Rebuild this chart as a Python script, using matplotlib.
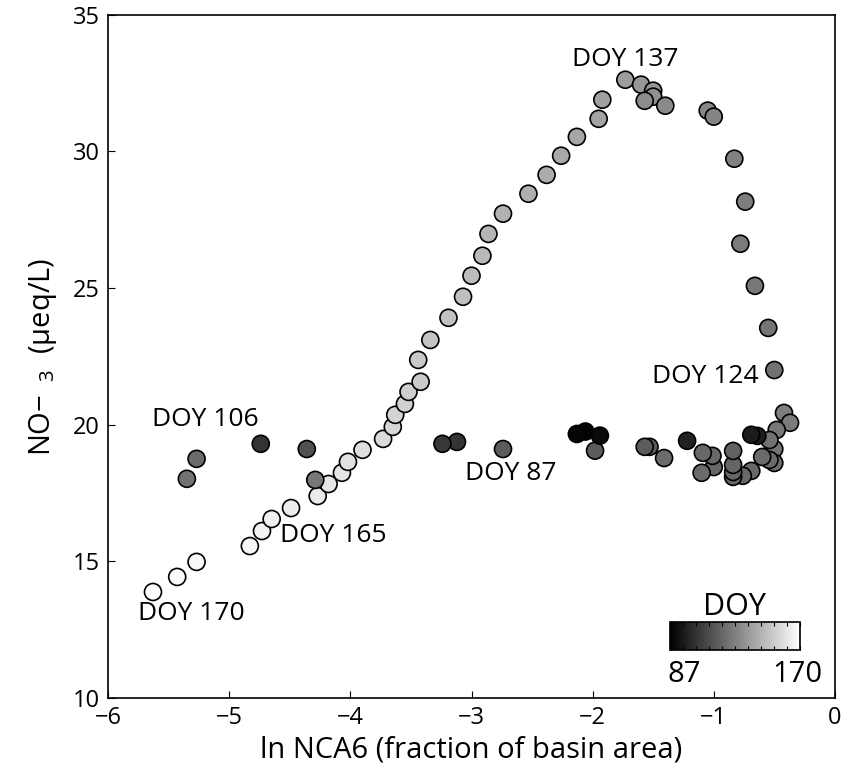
import matplotlib.pyplot as plt
import numpy as np

plt.rcParams['font.family'] = ['Open Sans', 'DejaVu Sans']
plt.rcParams['mathtext.fontset'] = 'custom'
plt.rcParams['mathtext.rm'] = 'Open Sans'

# ascending branch, DOY 170 -> 137
x_up = [-5.63, -5.43, -5.27, -4.83, -4.73, -4.65, -4.49, -4.27, -4.18, -4.07, -4.02,
        -3.90, -3.73, -3.65, -3.63, -3.55, -3.52, -3.42, -3.44, -3.34, -3.19, -3.07,
        -3.00, -2.91, -2.86, -2.74, -2.53, -2.38, -2.26, -2.13, -1.95, -1.92, -1.73]
y_up = [13.88, 14.43, 14.98, 15.56, 16.11, 16.55, 16.95, 17.39, 17.83, 18.24, 18.64,
        19.08, 19.48, 19.92, 20.36, 20.76, 21.20, 21.57, 22.37, 23.10, 23.91, 24.68,
        25.45, 26.18, 26.98, 27.72, 28.45, 29.14, 29.84, 30.53, 31.19, 31.89, 32.62]
doy_up = list(range(170, 137, -1))

# descending branch, DOY 136 -> 124
x_down = [-1.60, -1.50, -1.50, -1.57, -1.40, -1.05, -1.00, -0.83, -0.74, -0.78, -0.66, -0.55, -0.50]
y_down = [32.44, 32.22, 32.00, 31.85, 31.67, 31.49, 31.27, 29.73, 28.16, 26.62, 25.08, 23.54, 22.00]
doy_down = list(range(136, 123, -1))

# low branch, DOY 87 - 123
x_low = [-0.42, -0.37, -0.48, -0.50, -0.54, -0.50, -0.54, -0.60, -0.64, -0.69, -0.69,
         -0.76, -0.84, -0.84, -0.84, -0.84, -1.00, -1.01, -1.09, -1.10, -1.22, -1.41,
         -1.53, -1.57, -1.98, -2.06, -1.94, -2.13, -2.74, -3.12, -3.24, -4.29, -4.36,
         -4.74, -5.27, -5.35]
y_low = [20.43, 20.07, 19.81, 19.11, 19.44, 18.60, 18.71, 18.82, 19.59, 19.63, 18.31,
         18.13, 18.09, 18.27, 18.53, 19.04, 18.45, 18.86, 18.97, 18.24, 19.41, 18.78,
         19.19, 19.19, 19.05, 19.75, 19.60, 19.66, 19.11, 19.37, 19.30, 17.98, 19.11,
         19.30, 18.75, 18.02]
doy_low = [128, 127, 126, 125, 124, 123, 122, 122, 97, 96, 121,
           121, 121, 120, 120, 119, 121, 121, 121, 122, 98, 122,
           117, 117, 117, 88, 90, 89, 117, 104, 105, 126, 113,
           104, 122, 124]

x = np.array(x_up + x_down + x_low)
y = np.array(y_up + y_down + y_low)
doy = np.array(doy_up + doy_down + doy_low)

fig = plt.figure(figsize=(8.45, 7.73), dpi=100)
ax = fig.add_axes([0.128, 0.097, 0.86, 0.884])
sc = ax.scatter(x, y, c=doy, cmap='gray', vmin=87, vmax=170, s=150,
                edgecolors='black', linewidths=1.2, zorder=3)

ax.set_xlim(-6, 0)
ax.set_ylim(10, 35)
ax.set_xticks([-6, -5, -4, -3, -2, -1, 0])
ax.set_xticklabels(['\u22126', '\u22125', '\u22124', '\u22123', '\u22122', '\u22121', '0'])
ax.set_yticks([10, 15, 20, 25, 30, 35])
ax.tick_params(direction='in', length=5, labelsize=17, pad=6)
for s in ax.spines.values():
    s.set_linewidth(1.2)
ax.set_xlabel('ln NCA6 (fraction of basin area)', fontsize=21, labelpad=4)
ax.set_ylabel('NO$-_{\\ \\ 3}$  (\u03bceq/L)', fontsize=21, labelpad=10)

labels = [('DOY 137', -1.73, 33.35), ('DOY 124', -1.07, 21.75), ('DOY 106', -5.2, 20.2),
          ('DOY 165', -4.14, 15.93), ('DOY 170', -5.31, 13.1), ('DOY 87', -2.68, 18.2)]
for t, lx, ly in labels:
    ax.text(lx, ly, t, fontsize=19, ha='center', va='center')

cax = fig.add_axes([670 / 845, 1 - 650 / 773, 130 / 845, 28 / 773])
cb = fig.colorbar(sc, cax=cax, orientation='horizontal')
cb.outline.set_linewidth(1.2)
cb.set_ticks(np.linspace(87, 170, 11))
cax.tick_params(direction='in', length=3, top=True, bottom=True, labelbottom=False)
cax.set_title('DOY', fontsize=22, pad=3)
fig.text(684 / 845, 1 - 674 / 773, '87', fontsize=21, ha='center', va='center')
fig.text(797 / 845, 1 - 674 / 773, '170', fontsize=21, ha='center', va='center')

fig.savefig('out.png', dpi=100)
